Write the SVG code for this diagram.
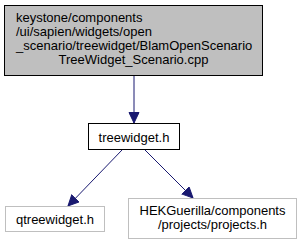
<svg xmlns="http://www.w3.org/2000/svg" width="302" height="245" viewBox="0 0 302 245">
<defs>
<style>
text{font-family:"Liberation Sans",Arial,sans-serif;font-size:13px;fill:#000}
.e{stroke:#191970;stroke-width:1;fill:none}
</style>
<marker id="a" markerWidth="12" markerHeight="12" refX="11" refY="5.5" orient="auto" markerUnits="userSpaceOnUse">
<path d="M0.5,0.5 L11,5.5 L0.5,10.5 Z" fill="#191970" stroke="#191970"/>
</marker>
</defs>
<rect width="302" height="245" fill="#fff"/>
<g id="edges">
<path class="e" d="M134,75 V123" marker-end="url(#a)"/>
<path class="e" d="M122,150 L68,206" marker-end="url(#a)"/>
<path class="e" d="M145,150 L193,198" marker-end="url(#a)"/>
</g>
<g id="node1">
<rect x="4.5" y="5.5" width="258" height="70" fill="#bfbfbf" stroke="#000"/>
<text x="16" y="21.5">keystone/components</text>
<text x="16" y="35.5">/ui/sapien/widgets/open</text>
<text x="16" y="49.5">_scenario/treewidget/BlamOpenScenario</text>
<text x="133.5" y="63.5" text-anchor="middle">TreeWidget_Scenario.cpp</text>
</g>
<g id="node2">
<rect x="88.5" y="123.5" width="91" height="26" fill="#fff" stroke="#000"/>
<text x="134" y="141.5" text-anchor="middle">treewidget.h</text>
</g>
<g id="node3">
<rect x="5.5" y="206.5" width="99" height="25" fill="#fff" stroke="#bfbfbf"/>
<text x="55" y="223.5" text-anchor="middle">qtreewidget.h</text>
</g>
<g id="node4">
<rect x="128.5" y="198.5" width="168" height="40" fill="#fff" stroke="#bfbfbf"/>
<text x="212.5" y="214.5" text-anchor="middle">HEKGuerilla/components</text>
<text x="212.5" y="228.5" text-anchor="middle">/projects/projects.h</text>
</g>
</svg>
